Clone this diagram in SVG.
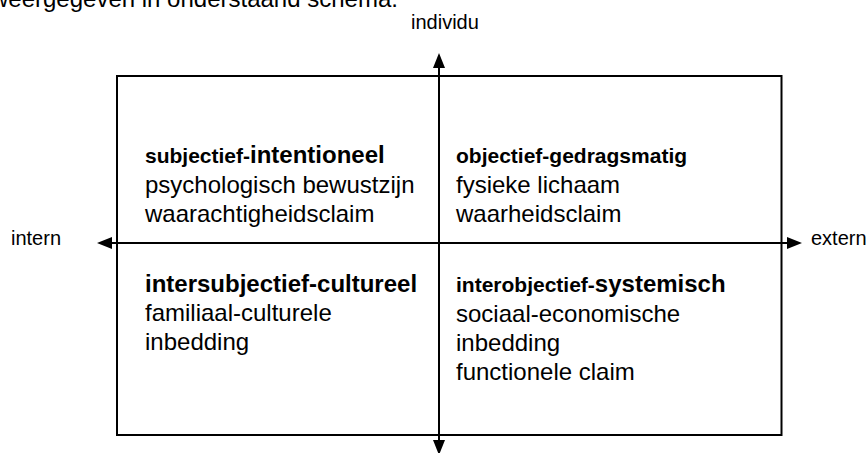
<svg xmlns="http://www.w3.org/2000/svg" width="868" height="453" viewBox="0 0 868 453">
<style>
text{font-family:"Liberation Sans",Arial,sans-serif;fill:#000}
.t{font-size:24px}
.ax{font-size:20px}
.b{font-weight:bold;font-size:24px}
.s{font-size:21px}
.box{fill:none;stroke:#000;stroke-width:2}
.axis{stroke:#000;stroke-width:2;fill:none}
</style>
<defs>
<marker id="ah" markerUnits="userSpaceOnUse" markerWidth="15" markerHeight="12" refX="12" refY="6" orient="auto-start-reverse" viewBox="0 0 15 12">
<path d="M0,0 L15,6 L0,12 z" fill="#000"/>
</marker>
</defs>
<text class="t" x="-9" y="7">weergegeven in onderstaand schema.</text>
<rect id="frame" class="box" x="117" y="76" width="664.5" height="359"/>
<g id="connectors">
<line class="axis" x1="100" y1="243" x2="799" y2="243" marker-start="url(#ah)" marker-end="url(#ah)"/>
<line class="axis" x1="439" y1="56" x2="439" y2="452" marker-start="url(#ah)" marker-end="url(#ah)"/>
</g>
<g id="label-individu"><text class="ax" x="411" y="29">individu</text></g>
<g id="label-intern"><text class="ax" x="11" y="245">intern</text></g>
<g id="label-extern"><text class="ax" x="811" y="245">extern</text></g>
<g id="q-subjectief">
<text class="b" x="145" y="163"><tspan class="s">subjectief-</tspan>intentioneel</text>
<text class="t" x="145" y="193">psychologisch bewustzijn</text>
<text class="t" x="145" y="222">waarachtigheidsclaim</text>
</g>
<g id="q-objectief">
<text class="b" x="456" y="163"><tspan class="s">objectief-gedragsmatig</tspan></text>
<text class="t" x="456" y="193">fysieke lichaam</text>
<text class="t" x="456" y="222">waarheidsclaim</text>
</g>
<g id="q-intersubjectief">
<text class="b" x="145" y="292">intersubjectief-cultureel</text>
<text class="t" x="145" y="321">familiaal-culturele</text>
<text class="t" x="145" y="350">inbedding</text>
</g>
<g id="q-interobjectief">
<text class="b" x="456" y="292"><tspan class="s">interobjectief-</tspan>systemisch</text>
<text class="t" x="456" y="322">sociaal-economische</text>
<text class="t" x="456" y="351">inbedding</text>
<text class="t" x="456" y="380">functionele claim</text>
</g>
</svg>
